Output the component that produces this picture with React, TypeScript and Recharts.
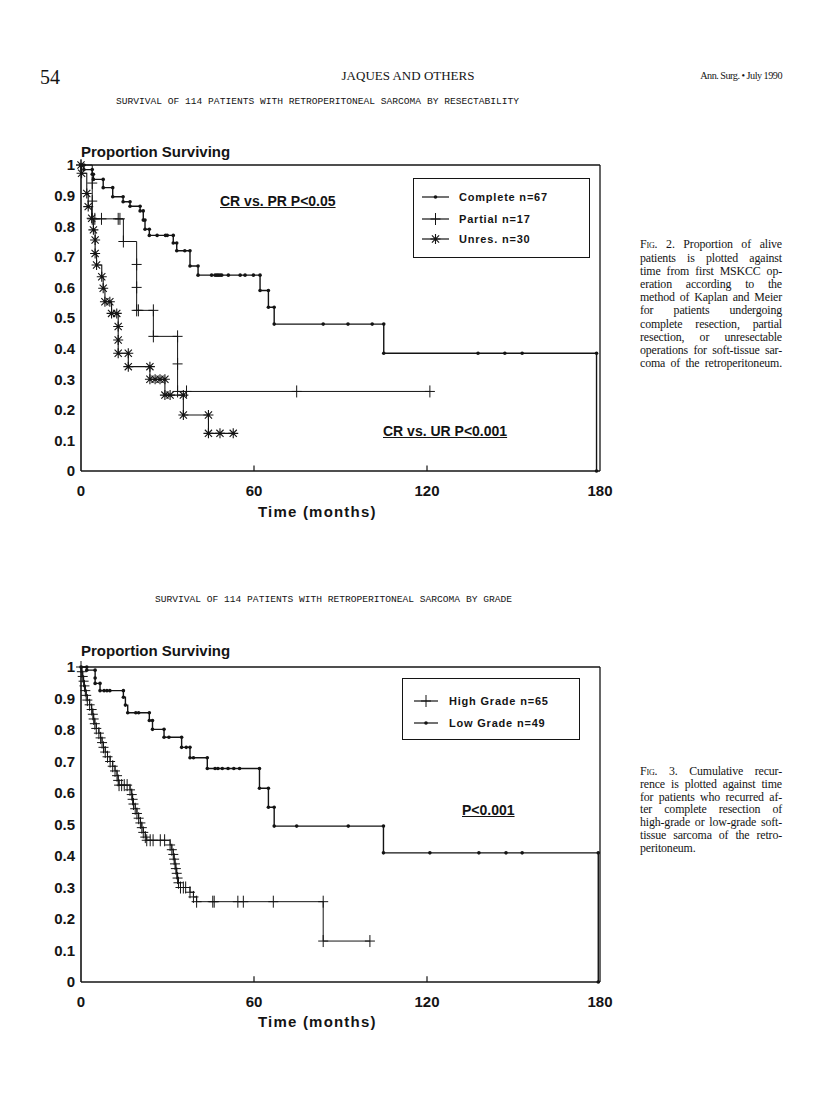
import React from "react";
import { LineChart, Line, XAxis, YAxis, ReferenceLine, Legend } from "recharts";

type Pt = [number, number];

const Y_TICKS = [0, 0.1, 0.2, 0.3, 0.4, 0.5, 0.6, 0.7, 0.8, 0.9, 1];
const X_TICKS = [0, 60, 120, 180];

// Fig. 2 — by resectability (time in months, proportion surviving)
const COMPLETE: Pt[] = [
  [0, 1], [1, 1], [1, 0.985], [3.9, 0.985], [3.9, 0.97], [4.3, 0.97], [4.3, 0.953],
  [7.7, 0.953], [7.7, 0.926], [11, 0.926], [11, 0.896], [14.6, 0.896], [14.6, 0.88],
  [17, 0.88], [17, 0.865], [20.5, 0.865], [20.5, 0.85], [21.6, 0.85], [21.6, 0.82],
  [22.2, 0.82], [22.2, 0.79], [23.7, 0.79], [23.7, 0.77], [26.4, 0.77], [29.3, 0.77],
  [29.9, 0.77], [32, 0.77], [32, 0.745], [33.2, 0.745], [33.2, 0.72], [36, 0.72],
  [37.8, 0.72], [37.8, 0.67], [40.6, 0.67], [40.6, 0.64], [45.3, 0.64], [46.5, 0.64],
  [47.1, 0.64], [47.6, 0.64], [48.2, 0.64], [48.8, 0.64], [51.1, 0.64], [55.2, 0.64],
  [56.9, 0.64], [59.8, 0.64], [62.1, 0.64], [62.1, 0.59], [65, 0.59], [65, 0.535],
  [67, 0.535], [67, 0.48], [84, 0.48], [92.6, 0.48], [101, 0.48], [105, 0.48],
  [105, 0.385], [137.7, 0.385], [147, 0.385], [153, 0.385], [178.8, 0.385], [178.8, 0],
];
const PARTIAL: Pt[] = [
  [0, 1], [3.9, 0.941], [3.9, 0.882], [3.9, 0.824], [4.8, 0.824], [7.1, 0.824],
  [12.9, 0.824], [13.5, 0.824], [14.7, 0.75], [19.3, 0.675], [19.3, 0.6], [19.3, 0.525],
  [19.9, 0.525], [25.1, 0.525], [25.1, 0.44], [33.5, 0.44], [33.5, 0.35], [33.5, 0.26],
  [36.6, 0.26], [74.8, 0.26], [121, 0.26],
];
const UNRES: Pt[] = [
  [0, 1], [0.2, 0.973], [2, 0.907], [2.5, 0.864], [3.7, 0.826], [4.3, 0.788],
  [4.9, 0.755], [4.9, 0.711], [5.4, 0.673], [7.2, 0.635], [7.7, 0.597], [8.3, 0.553],
  [10, 0.553], [10.6, 0.515], [12.4, 0.515], [12.9, 0.472], [12.9, 0.428], [12.9, 0.385],
  [16.4, 0.385], [16.4, 0.341], [23.9, 0.341], [23.9, 0.3], [25.7, 0.3], [27.4, 0.3],
  [29.1, 0.3], [29.1, 0.248], [30.9, 0.248], [35.5, 0.248], [35.5, 0.183], [44.2, 0.183],
  [44.2, 0.123], [48.2, 0.123], [52.8, 0.123],
];

// Fig. 3 — by grade
const HIGH_GRADE: Pt[] = [
  [0, 1], [0.3, 0.985], [0.6, 0.97], [0.9, 0.955], [1.2, 0.94], [1.5, 0.925], [1.8, 0.91],
  [2.2, 0.895], [3, 0.88], [3.7, 0.865], [4.1, 0.85], [4.4, 0.835], [4.8, 0.82],
  [5.3, 0.805], [6.2, 0.79], [6.8, 0.775], [7.3, 0.76], [7.8, 0.745], [8.4, 0.73],
  [9.2, 0.715], [10.1, 0.7], [11, 0.685], [11.8, 0.67], [12.5, 0.655], [12.9, 0.64],
  [13.2, 0.625], [14.1, 0.625], [15, 0.625], [16, 0.625], [17, 0.61], [17.6, 0.595],
  [17.9, 0.58], [18.2, 0.565], [18.8, 0.55], [19.4, 0.535], [20, 0.52], [20.6, 0.505],
  [21.1, 0.49], [21.6, 0.475], [22.3, 0.46], [22.8, 0.45], [24, 0.45], [25, 0.45],
  [27.5, 0.45], [29, 0.45], [30.9, 0.435], [31.5, 0.42], [32, 0.405], [32.3, 0.39],
  [32.6, 0.375], [32.9, 0.36], [33.2, 0.345], [33.5, 0.33], [33.8, 0.315], [34.5, 0.3],
  [35.5, 0.3], [36.3, 0.3], [37.8, 0.285], [39, 0.27], [40.1, 0.255], [45.7, 0.255],
  [46.2, 0.255], [54.4, 0.255], [56.3, 0.255], [66.7, 0.255], [84, 0.255], [84, 0.13],
  [100.2, 0.13],
];
const LOW_GRADE: Pt[] = [
  [0, 1], [2, 1], [2, 0.99], [4.9, 0.99], [4.9, 0.965], [4.9, 0.948], [6.6, 0.948],
  [6.6, 0.925], [8, 0.925], [9, 0.925], [10, 0.925], [14.7, 0.925], [14.7, 0.904],
  [15.4, 0.879], [16.2, 0.855], [19, 0.855], [20, 0.855], [23.7, 0.855], [23.7, 0.83],
  [24.8, 0.83], [24.8, 0.802], [28.8, 0.802], [28.8, 0.777], [30.5, 0.777], [34.9, 0.777],
  [34.9, 0.745], [36.5, 0.745], [37.8, 0.745], [37.8, 0.712], [39, 0.712], [43.8, 0.712],
  [43.8, 0.678], [46.5, 0.678], [47.5, 0.678], [49, 0.678], [51, 0.678], [53, 0.678],
  [55, 0.678], [61.9, 0.678], [61.9, 0.615], [65, 0.615], [65, 0.555], [67, 0.555],
  [67, 0.495], [74.8, 0.495], [92.7, 0.495], [104.9, 0.495], [104.9, 0.41], [121, 0.41],
  [138, 0.41], [147.4, 0.41], [153, 0.41], [179.4, 0.41], [179.4, 0],
];

const CAPTION_2 = [
  "Fig. 2. Proportion of alive",
  "patients is plotted against",
  "time from first MSKCC op-",
  "eration according to the",
  "method of Kaplan and Meier",
  "for patients undergoing",
  "complete resection, partial",
  "resection, or unresectable",
  "operations for soft-tissue sar-",
  "coma of the retroperitoneum.",
];
const CAPTION_3 = [
  "Fig. 3. Cumulative recur-",
  "rence is plotted against time",
  "for patients who recurred af-",
  "ter complete resection of",
  "high-grade or low-grade soft-",
  "tissue sarcoma of the retro-",
  "peritoneum.",
];

const INK = "#141414";
const SANS = "'Liberation Sans', Arial, sans-serif";
const SERIF = "'Liberation Serif', 'Times New Roman', serif";
const MONO = "'Liberation Mono', 'DejaVu Sans Mono', monospace";

const rows = (pts: Pt[]) => pts.map(([t, s]) => ({ t, s }));

function Mark({ kind, cx, cy }: { kind: string; cx: number; cy: number }) {
  if (kind === "dot") return <circle cx={cx} cy={cy} r={1.8} fill={INK} />;
  if (kind === "plus")
    return (
      <path
        d={`M${cx - 5},${cy}H${cx + 5}M${cx},${cy - 6}V${cy + 6}`}
        stroke={INK}
        strokeWidth={1}
        fill="none"
      />
    );
  const r = 5;
  const d = 3.6;
  return (
    <path
      d={`M${cx - r},${cy}H${cx + r}M${cx},${cy - r}V${cy + r}M${cx - d},${cy - d}L${cx + d},${cy + d}M${cx - d},${cy + d}L${cx + d},${cy - d}`}
      stroke={INK}
      strokeWidth={1.1}
      fill="none"
    />
  );
}

const markDot = (kind: string) => (p: any) => {
  if (p.cx == null || p.cy == null) return <g key={p.index} />;
  return <Mark key={p.index} kind={kind} cx={p.cx} cy={p.cy} />;
};

interface Series {
  name: string;
  pts: Pt[];
  kind: string;
  width: number;
}

interface KeyBox {
  left: number;
  top: number;
  w: number;
  h: number;
  rowY: number[];
  sample: [number, number];
  textX: number;
}

const keyContent = (series: Series[], box: KeyBox) => (props: any) => {
  const items: any[] = props.payload || [];
  return (
    <div
      style={{
        position: "relative",
        width: box.w,
        height: box.h,
        border: `1.5px solid ${INK}`,
        boxSizing: "border-box",
        background: "#fff",
      }}
    >
      {items.map((it: any, i: number) => {
        const s = series.find((x) => x.name === it.value);
        return (
          <div
            key={it.value}
            style={{ position: "absolute", left: 0, top: box.rowY[i] - 8, height: 16, width: box.w }}
          >
            <svg width={box.textX} height={16} style={{ position: "absolute", left: 0, top: 0 }}>
              <line x1={box.sample[0]} x2={box.sample[1]} y1={8} y2={8} stroke={INK} strokeWidth={1.2} />
              <Mark kind={s ? s.kind : "dot"} cx={(box.sample[0] + box.sample[1]) / 2} cy={8} />
            </svg>
            <span
              style={{
                position: "absolute",
                left: box.textX,
                top: 0,
                lineHeight: "16px",
                fontFamily: SANS,
                fontWeight: 700,
                fontSize: 11,
                letterSpacing: 0.8,
                color: INK,
                whiteSpace: "nowrap",
              }}
            >
              {it.value}
            </span>
          </div>
        );
      })}
    </div>
  );
};

const fmtY = (v: number) => (v === 0 ? "0" : v === 1 ? "1" : v.toFixed(1));

function SurvivalPlot({
  series,
  height,
  marginTop,
  axisHeight,
  box,
}: {
  series: Series[];
  height: number;
  marginTop: number;
  axisHeight: number;
  box: KeyBox;
}) {
  const tickFont = { fill: INK, fontSize: 15, fontWeight: 700, fontFamily: SANS };
  return (
    <LineChart width={640} height={height} margin={{ top: marginTop, right: 40, bottom: 0, left: 0 }}>
      <XAxis
        type="number"
        dataKey="t"
        domain={[0, 180]}
        ticks={X_TICKS}
        interval={0}
        tickLine={false}
        tickSize={0}
        tickMargin={14}
        height={axisHeight}
        axisLine={{ stroke: INK, strokeWidth: 1.6 }}
        tick={tickFont}
      />
      <YAxis
        type="number"
        domain={[0, 1]}
        ticks={Y_TICKS}
        interval={0}
        width={81}
        tickLine={false}
        tickSize={0}
        tickMargin={6}
        axisLine={{ stroke: INK, strokeWidth: 1.6 }}
        tick={tickFont}
        tickFormatter={fmtY}
      />
      <ReferenceLine y={1} stroke={INK} strokeWidth={1.6} />
      <ReferenceLine x={180} stroke={INK} strokeWidth={1.3} />
      {X_TICKS.filter((v) => v > 0 && v < 180).map((v) => (
        <ReferenceLine
          key={v}
          segment={[
            { x: v, y: 0 },
            { x: v, y: 0.018 },
          ]}
          stroke={INK}
          strokeWidth={1.2}
        />
      ))}
      {series.map((s) => (
        <Line
          key={s.name}
          name={s.name}
          data={rows(s.pts)}
          dataKey="s"
          type="stepAfter"
          stroke={INK}
          strokeWidth={s.width}
          dot={markDot(s.kind)}
          activeDot={false}
          isAnimationActive={false}
        />
      ))}
      <Legend
        layout="horizontal"
        verticalAlign="middle"
        align="center"
        wrapperStyle={{ left: box.left, top: box.top, width: box.w, height: box.h }}
        content={keyContent(series, box)}
      />
    </LineChart>
  );
}

const FIG2_SERIES: Series[] = [
  { name: "Complete n=67", pts: COMPLETE, kind: "dot", width: 1.4 },
  { name: "Partial n=17", pts: PARTIAL, kind: "plus", width: 1 },
  { name: "Unres. n=30", pts: UNRES, kind: "star", width: 1.1 },
];
const FIG3_SERIES: Series[] = [
  { name: "High Grade n=65", pts: HIGH_GRADE, kind: "plus", width: 1 },
  { name: "Low Grade n=49", pts: LOW_GRADE, kind: "dot", width: 1.4 },
];

function Txt({
  x,
  y,
  size,
  children,
  bold = true,
  underline = false,
  spacing = 0,
  family = SANS,
}: {
  x: number;
  y: number;
  size: number;
  children: React.ReactNode;
  bold?: boolean;
  underline?: boolean;
  spacing?: number;
  family?: string;
}) {
  return (
    <div
      style={{
        position: "absolute",
        left: x,
        top: y - size * 0.6,
        fontFamily: family,
        fontSize: size,
        lineHeight: `${size * 1.2}px`,
        fontWeight: bold ? 700 : 400,
        textDecoration: underline ? "underline" : "none",
        letterSpacing: spacing,
        whiteSpace: "nowrap",
        color: INK,
      }}
    >
      {children}
    </div>
  );
}

function Caption({ lines, top, lh, justifyLast }: { lines: string[]; top: number; lh: number; justifyLast: boolean }) {
  return (
    <div
      style={{
        position: "absolute",
        left: 640,
        top,
        width: 142,
        fontFamily: SERIF,
        fontSize: 11.9,
        letterSpacing: -0.15,
        color: INK,
      }}
    >
      {lines.map((l, i) => {
        const last = i === lines.length - 1;
        const just = !last || justifyLast;
        const body = i === 0 ? (
          <>
            <span style={{ fontVariant: "small-caps" }}>{l.slice(0, 4)}</span>
            {l.slice(4)}
          </>
        ) : (
          l
        );
        return (
          <div
            key={i}
            style={{
              height: lh,
              lineHeight: `${lh}px`,
              whiteSpace: "nowrap",
              textAlign: just ? "justify" : "left",
              textAlignLast: just ? "justify" : "left",
            }}
          >
            {body}
          </div>
        );
      })}
    </div>
  );
}

export default function App() {
  return (
    <div style={{ position: "absolute", left: 0, top: 0, width: 816, height: 1118, background: "#fff", overflow: "hidden" }}>
      <Txt x={40} y={77} size={20} bold={false} family={SERIF}>54</Txt>
      <div style={{ position: "absolute", left: 0, width: 816, top: 68, textAlign: "center", fontFamily: SERIF, fontSize: 13, color: INK }}>
        JAQUES AND OTHERS
      </div>
      <div style={{ position: "absolute", right: 34, top: 70, fontFamily: SERIF, fontSize: 10.2, letterSpacing: -0.5, color: INK }}>
        Ann. Surg. • July 1990
      </div>
      <Txt x={116} y={102} size={9.6} bold={false} family={MONO}>
        SURVIVAL OF 114 PATIENTS WITH RETROPERITONEAL SARCOMA BY RESECTABILITY
      </Txt>

      <div style={{ position: "absolute", left: 0, top: 130 }}>
        <SurvivalPlot
          series={FIG2_SERIES}
          height={400}
          marginTop={35}
          axisHeight={59}
          box={{ left: 413, top: 48, w: 177, h: 80, rowY: [18, 39.5, 59.5], sample: [8, 35], textX: 45 }}
        />
      </div>
      <Txt x={81} y={152} size={15}>Proportion Surviving</Txt>
      <Txt x={220} y={201} size={14} underline>CR vs. PR P&lt;0.05</Txt>
      <Txt x={383} y={431} size={14} underline>CR vs. UR P&lt;0.001</Txt>
      <Txt x={258} y={512} size={15} spacing={1.2}>Time (months)</Txt>
      <Caption lines={CAPTION_2} top={238.4} lh={13.2} justifyLast />

      <Txt x={155} y={600} size={9.6} bold={false} family={MONO}>
        SURVIVAL OF 114 PATIENTS WITH RETROPERITONEAL SARCOMA BY GRADE
      </Txt>
      <div style={{ position: "absolute", left: 0, top: 630 }}>
        <SurvivalPlot
          series={FIG3_SERIES}
          height={400}
          marginTop={37}
          axisHeight={48}
          box={{ left: 402, top: 48, w: 178, h: 62, rowY: [22, 44], sample: [11, 35], textX: 46 }}
        />
      </div>
      <Txt x={81} y={651} size={15}>Proportion Surviving</Txt>
      <Txt x={462} y={810} size={14} underline>P&lt;0.001</Txt>
      <Txt x={258} y={1022} size={15} spacing={1.2}>Time (months)</Txt>
      <Caption lines={CAPTION_3} top={765} lh={12.8} justifyLast={false} />
    </div>
  );
}
